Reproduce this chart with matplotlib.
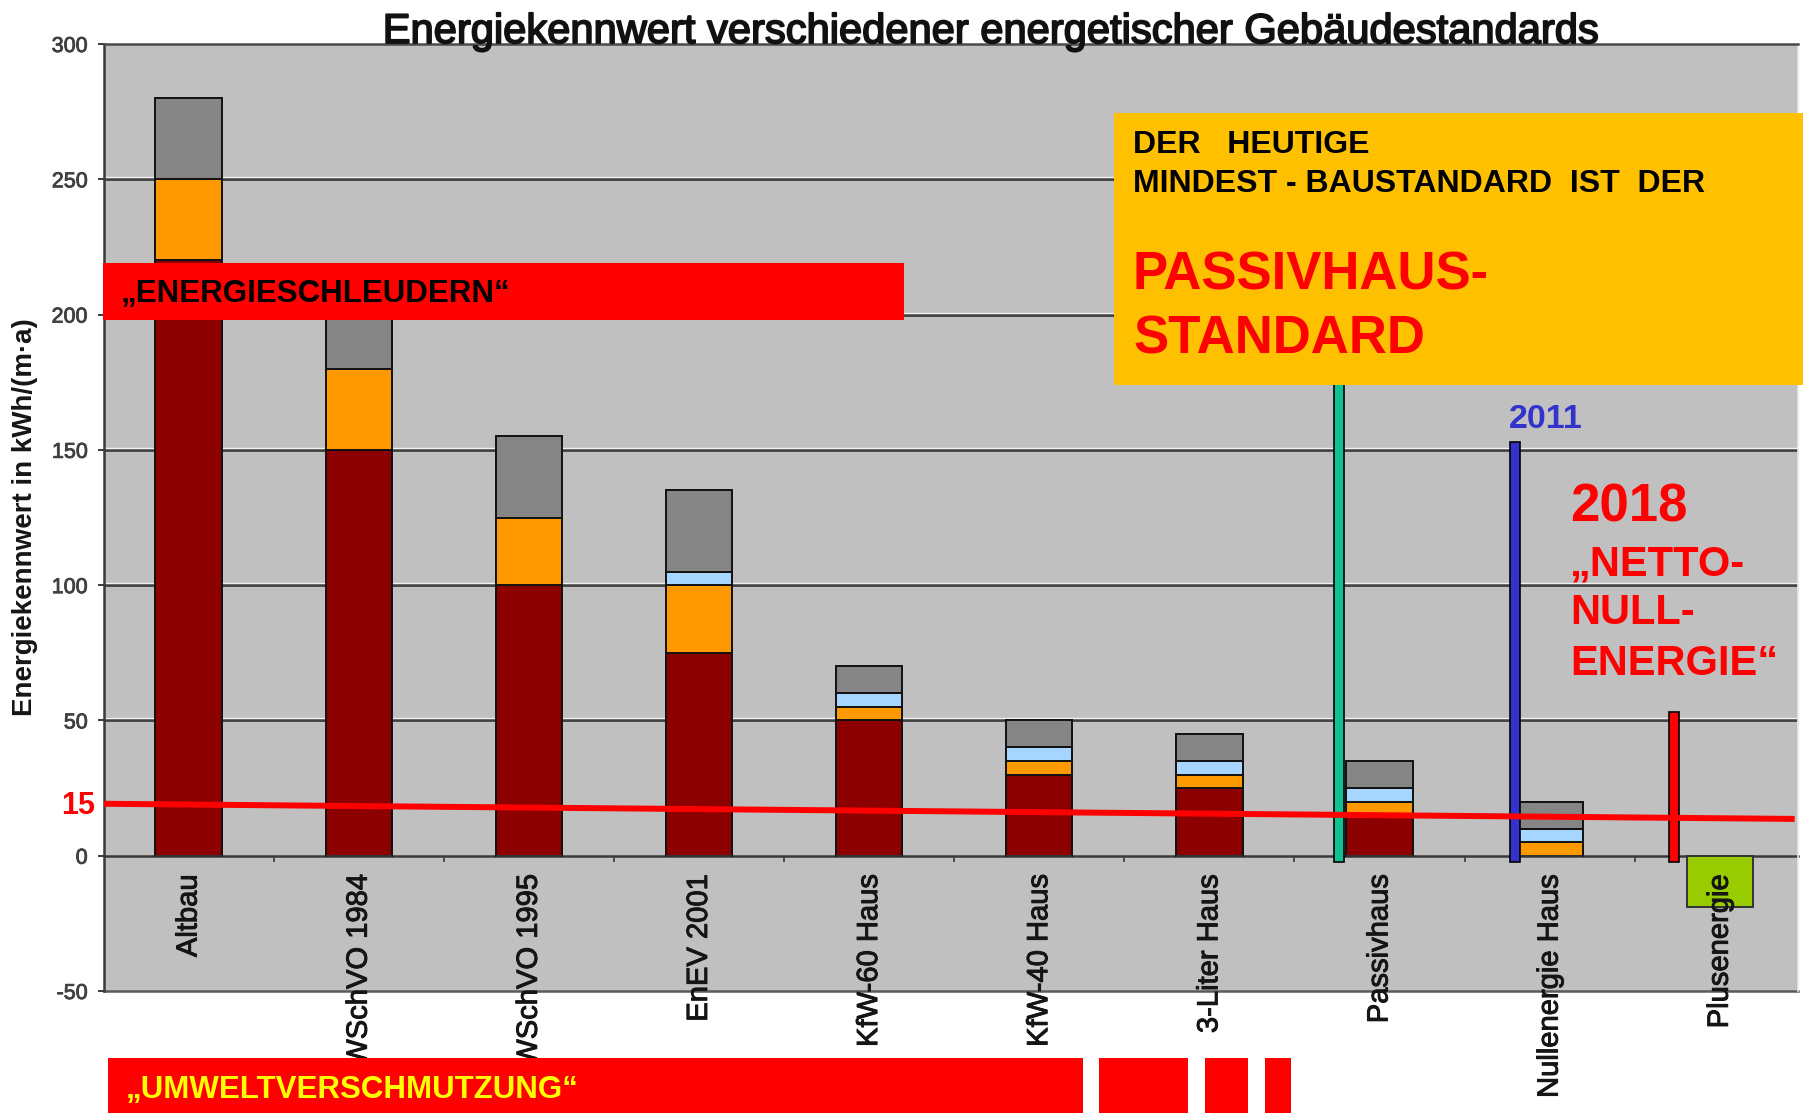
import numpy as np
import matplotlib
matplotlib.use("Agg")
import matplotlib.pyplot as plt
from matplotlib.patches import Rectangle
from matplotlib import transforms
import matplotlib.patheffects as pe

plt.rcParams["font.family"] = ["Liberation Sans", "DejaVu Sans"]

W, H = 1803, 1113

# ---- data ----
categories = ["Altbau", "WSchVO 1984", "WSchVO 1995", "EnEV 2001", "KfW-60 Haus",
              "KfW-40 Haus", "3-Liter Haus", "Passivhaus", "Nullenergie Haus", "Plusenergie"]
heizung = [220, 150, 100, 75, 50, 30, 25, 15, 0, 0]
warmwasser = [30, 30, 25, 25, 5, 5, 5, 5, 5, 0]
lueftung = [0, 0, 0, 5, 5, 5, 5, 5, 5, 0]
hilfsenergie = [30, 30, 30, 30, 10, 10, 10, 10, 10, 0]
plusenergie = [0, 0, 0, 0, 0, 0, 0, 0, 0, -19]

# markers: Passivhaus standard / 2011 / 2018
marker_tops = [175, 153, 53]
marker_colors = ["#12C192", "#3333CC", "#FF0000"]

# sloped "15" reference line (value at left and right end)
ref_line = [19.2, 13.6]

yticks = [-50, 0, 50, 100, 150, 200, 250, 300]


def fx(x):
    return x / W


def fy(y):
    return 1 - y / H


heavy = [pe.withStroke(linewidth=0.7, foreground="#151515")]

fig = plt.figure(figsize=(W / 100, H / 100), dpi=100)
ax = fig.add_axes([fx(103.5), 122 / H, (1798 - 103.5) / W, 947 / H])
ax.set_facecolor("#C0C0C0")
ax.set_xlim(0, 9.96)
ax.set_ylim(-50, 300)

# gridlines with a small white bevel above
bevel = transforms.offset_copy(ax.transData, fig=fig, x=0, y=2, units="dots")
for v in yticks[2:-1]:
    ax.plot([0, 9.96], [v, v], color="#404040", lw=2.0, zorder=1)
    ax.plot([0, 9.96], [v, v], color="#f2f2f2", lw=1.0, zorder=1, transform=bevel)
ax.plot([0, 9.96], [-50, -50], color="#5a5a5a", lw=1.8, zorder=1, clip_on=False)

# stacked bars
x = np.arange(len(categories)) + 0.5
bottom = np.zeros(len(categories))
for vals, col in [(heizung, "#8C0000"), (warmwasser, "#FF9900"),
                  (lueftung, "#A6D6FF"), (hilfsenergie, "#858585")]:
    ax.bar(x, vals, 0.39, bottom=bottom, color=col, edgecolor="#111111",
           linewidth=1.4, zorder=3)
    bottom += np.array(vals)
ax.bar(x, plusenergie, 0.39, color="#99CC00", edgecolor="#333333",
       linewidth=1.4, zorder=3)

# vertical marker columns
marker_x = [x[7] - 0.24, x[8] - 0.205, x[9] - 0.27]
for mx, top, col in zip(marker_x, marker_tops, marker_colors):
    ax.bar(mx, top + 2.3, 0.06, bottom=-2.3, color=col, edgecolor="black",
           linewidth=1.2, zorder=4, clip_on=False)

# sloped reference line
ax.plot([0, 9.94], ref_line, color="#FF0000", lw=4.3, zorder=5,
        solid_capstyle="butt")
ax.annotate("15", xy=(0, ref_line[0]), xytext=(-8.5, -10), textcoords="offset pixels",
            ha="right", va="baseline", color="#FF0000", fontsize=22,
            fontweight="bold", annotation_clip=False)

# axes styling
ax.spines["bottom"].set_position(("data", 0))
ax.spines["bottom"].set_color("#3a3a3a")
ax.spines["bottom"].set_linewidth(1.8)
ax.spines["bottom"].set_zorder(2)
ax.spines["left"].set_color("#3a3a3a")
ax.spines["left"].set_linewidth(1.8)
ax.spines["top"].set_color("#4a4a4a")
ax.spines["top"].set_linewidth(1.8)
ax.spines["right"].set_color("#e8e8e8")
ax.spines["right"].set_linewidth(1.2)

ax.set_xticks(x)
ax.set_xticklabels(categories, rotation=90, fontsize=21, color="#151515")
for t in ax.get_xticklabels():
    t.set_path_effects(heavy)
ax.tick_params(axis="x", which="major", length=0, pad=13.5)
ax.set_xticks(np.arange(1, 10), minor=True)
ax.tick_params(axis="x", which="minor", length=4.5, width=1.2, color="#3a3a3a")
ax.xaxis.set_zorder(4.5)

ax.set_yticks(yticks)
ax.set_yticklabels([str(v) for v in yticks], fontsize=15.5, color="#404040")
for t in ax.get_yticklabels():
    t.set_path_effects([pe.withStroke(linewidth=0.6, foreground="#404040")])
ax.tick_params(axis="y", length=4.3, width=1.4, color="#3a3a3a", pad=7)

# title and axis label
fig.text(fx(990), fy(43), "Energiekennwert verschiedener energetischer Gebäudestandards",
         ha="center", va="baseline", fontsize=30, color="#111111",
         path_effects=[pe.withStroke(linewidth=1.3, foreground="#111111")])
fig.text(fx(25), fy(517), "Energiekennwert in kWh/(m·a)", rotation=90,
         ha="center", va="center", fontsize=20, fontweight="bold", color="#151515")


def box(x0, y0, x1, y1, color):
    fig.add_artist(Rectangle((fx(x0), fy(y1)), (x1 - x0) / W, (y1 - y0) / H,
                             transform=fig.transFigure, color=color, zorder=5, lw=0))


def label(xp, yp, s, size, color, **kw):
    fig.text(fx(xp), fy(yp), s, ha="left", va="baseline", fontsize=size,
             fontweight="bold", color=color, zorder=6, **kw)


# red banner top left
box(103, 263, 904, 320, "#FF0000")
label(121, 302, "„ENERGIESCHLEUDERN“", 22.5, "black")

# yellow box
box(1114, 113, 1806, 385, "#FFC000")
label(1133, 153, "DER   HEUTIGE", 23, "black")
label(1133, 192, "MINDEST - BAUSTANDARD  IST  DER", 23, "black")
label(1133, 289, "PASSIVHAUS-", 38, "#FF0000")
label(1133, 353, "STANDARD", 38, "#FF0000")

# year labels
label(1509, 428, "2011", 24.5, "#3333CC")
label(1570, 521, "2018", 38, "#FF0000")
label(1570, 575, "„NETTO-", 30, "#FF0000")
label(1570, 624, "NULL-", 30, "#FF0000")
label(1570, 675, "ENERGIE“", 30, "#FF0000")

# bottom banner
for x0, x1 in [(108, 1083), (1099, 1188), (1205, 1248), (1265, 1291)]:
    box(x0, 1058, x1, 1116, "#FF0000")
label(126, 1098, "„UMWELTVERSCHMUTZUNG“", 22.5, "#FFFF00")

fig.savefig("out.png", dpi=100)
